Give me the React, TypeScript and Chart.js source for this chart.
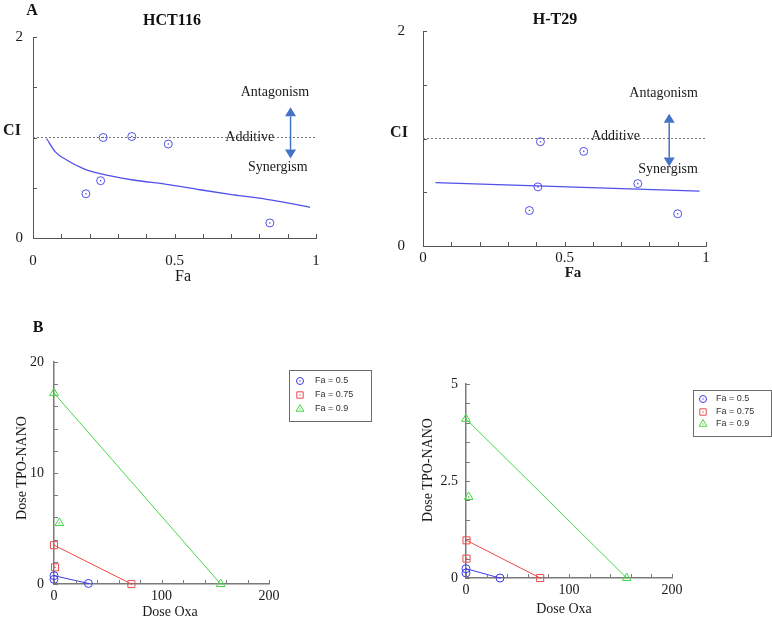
import { useEffect, useRef } from 'react';
import { Chart, registerables } from 'chart.js';

Chart.register(...registerables);

const SERIF = "'Liberation Serif', 'Times New Roman', serif";
const SANS = "'Liberation Sans', Arial, sans-serif";

// ---------------- Panel A : CI vs Fa ----------------
// HCT116
const hctPointFa = [0.187, 0.239, 0.248, 0.349, 0.478, 0.837];
const hctPointCI = [0.44, 0.57, 1.0, 1.01, 0.935, 0.15];
const hctCurveFa = [0.048, 0.078, 0.119, 0.178, 0.237, 0.354, 0.472, 0.59, 0.708, 0.826, 0.908, 0.979];
const hctCurveCI = [0.99, 0.86, 0.776, 0.69, 0.64, 0.577, 0.534, 0.48, 0.43, 0.385, 0.345, 0.305];
// H-T29
const htPointFa = [0.376, 0.406, 0.415, 0.568, 0.759, 0.9];
const htPointCI = [0.33, 0.55, 0.97, 0.88, 0.58, 0.3];
const htCurveFa = [0.044, 0.977];
const htCurveCI = [0.59, 0.51];

const additiveFa = [0, 1];
const additiveCI = [1, 1];

const faTickLabels = [0, 0.5, 1];
const ciTickLabels = [0, 2];
const faMinorTicks = [0, 0.1, 0.2, 0.3, 0.4, 0.5, 0.6, 0.7, 0.8, 0.9, 1];
const ciMinorTicks = [0, 0.5, 1, 1.5, 2];

// ---------------- Panel B : isobolograms ----------------
const faLevels = ['Fa = 0.5', 'Fa = 0.75', 'Fa = 0.9'];
// HCT116
const hctIsoOxa05 = [0, 32];
const hctIsoTpo05 = [0.75, 0.05];
const hctCombOxa05 = [0];
const hctCombTpo05 = [0.42];
const hctIsoOxa075 = [0, 72];
const hctIsoTpo075 = [3.5, 0];
const hctCombOxa075 = [1];
const hctCombTpo075 = [1.5];
const hctIsoOxa09 = [0, 155];
const hctIsoTpo09 = [17.2, 0];
const hctCombOxa09 = [5];
const hctCombTpo09 = [5.5];
// H-T29
const htIsoOxa05 = [0, 33];
const htIsoTpo05 = [0.24, 0];
const htCombOxa05 = [0];
const htCombTpo05 = [0.13];
const htIsoOxa075 = [0.5, 72];
const htIsoTpo075 = [0.97, 0];
const htCombOxa075 = [0.5];
const htCombTpo075 = [0.5];
const htIsoOxa09 = [0, 156];
const htIsoTpo09 = [4.1, 0];
const htCombOxa09 = [2.6];
const htCombTpo09 = [2.09];

const oxaTickLabels = [0, 100, 200];
const oxaMinorTicks = [0, 20, 40, 60, 80, 100, 120, 140, 160, 180, 200];
const hctTpoTickLabels = [0, 10, 20];
const hctTpoMinorTicks = [0, 2, 4, 6, 8, 10, 12, 14, 16, 18, 20];
const htTpoTickLabels = [0, 2.5, 5];
const htTpoMinorTicks = [0, 0.5, 1, 1.5, 2, 2.5, 3, 3.5, 4, 4.5, 5];

// ---------------- styles ----------------
const BLUE_A = 'rgb(80,80,235)';
const ARROW = '#4472c4';
const FA_COLORS = ['rgb(60,60,235)', 'rgb(235,75,75)', 'rgb(70,215,70)'];
const FA_MARKERS = ['circle', 'rect', 'triangle'];
const FA_RADIUS = [4, 5, 5];

const pts = (xs: number[], ys: number[]) => xs.map((x, i) => ({ x, y: ys[i] }));

function isoSets(iso: number[][], comb: number[][]) {
  const sets: any[] = [];
  faLevels.forEach((lab, k) => {
    const common = {
      pointStyle: FA_MARKERS[k],
      pointRadius: FA_RADIUS[k],
      borderColor: FA_COLORS[k],
      pointBorderColor: FA_COLORS[k],
      backgroundColor: 'rgba(0,0,0,0)',
      pointBackgroundColor: 'rgba(0,0,0,0)',
      borderWidth: 1,
      pointBorderWidth: 1,
      clip: false,
    };
    sets.push({ ...common, label: lab, data: pts(iso[k * 2], iso[k * 2 + 1]), showLine: true });
    sets.push({ ...common, label: lab + ' combination', data: pts(comb[k * 2], comb[k * 2 + 1]), showLine: false });
  });
  return sets;
}

type TextItem = { text: string; font: string; page?: [number, number]; data?: [number, number]; rotate?: boolean; color?: string };

type Panel = {
  left: number; top: number; w: number; h: number;
  plot: { l: number; t: number; r: number; b: number };
  xMin: number; xMax: number; yMin: number; yMax: number;
  xTicks: number[]; yTicks: number[]; xMinor: number[]; yMinor: number[];
  axisColor: string; axisWidth: number; tickFont: number; xPad: number; yPad: number; tickLen: number;
  datasets: any[];
  texts: TextItem[];
  arrow?: { x: number; y1: number; y2: number };
  legend?: { x: number; y: number; w: number; h: number; rows: number[]; markerX: number; textX: number };
};

const panels: Panel[] = [
  {
    left: 0, top: 0, w: 386, h: 290,
    plot: { l: 33, t: 37, r: 316, b: 238 },
    xMin: 0, xMax: 1, yMin: 0, yMax: 2,
    xTicks: faTickLabels, yTicks: ciTickLabels, xMinor: faMinorTicks, yMinor: ciMinorTicks,
    axisColor: '#555', axisWidth: 1, tickFont: 15, xPad: 14, yPad: 10, tickLen: 4,
    datasets: [
      { label: 'Combination', data: pts(hctPointFa, hctPointCI), pointStyle: 'circle', pointRadius: 4, borderColor: BLUE_A, pointBorderColor: BLUE_A, pointBackgroundColor: 'rgba(0,0,0,0)', borderWidth: 1, showLine: false, clip: false },
      { label: 'Fa-CI curve', data: pts(hctCurveFa, hctCurveCI), showLine: true, borderColor: BLUE_A, borderWidth: 1.3, pointRadius: 0, cubicInterpolationMode: 'monotone' },
      { label: 'Additive', data: pts(additiveFa, additiveCI), showLine: true, borderColor: '#777', borderWidth: 1, borderDash: [2, 2], pointRadius: 0 },
    ],
    texts: [
      { text: 'CI', font: `bold 16px ${SERIF}`, page: [12, 131] },
      { text: 'Fa', font: `16px ${SERIF}`, page: [183, 277] },
      { text: 'Antagonism', font: `14px ${SERIF}`, data: [0.855, 1.45] },
      { text: 'Additive', font: `14px ${SERIF}`, data: [0.766, 1.0] },
      { text: 'Synergism', font: `14px ${SERIF}`, data: [0.865, 0.7] },
    ],
    arrow: { x: 0.91, y1: 1.3, y2: 0.79 },
  },
  {
    left: 386, top: 0, w: 386, h: 290,
    plot: { l: 423, t: 31, r: 706, b: 246 },
    xMin: 0, xMax: 1, yMin: 0, yMax: 2,
    xTicks: faTickLabels, yTicks: ciTickLabels, xMinor: faMinorTicks, yMinor: ciMinorTicks,
    axisColor: '#555', axisWidth: 1, tickFont: 15, xPad: 3, yPad: 18, tickLen: 4,
    datasets: [
      { label: 'Combination', data: pts(htPointFa, htPointCI), pointStyle: 'circle', pointRadius: 4, borderColor: BLUE_A, pointBorderColor: BLUE_A, pointBackgroundColor: 'rgba(0,0,0,0)', borderWidth: 1, showLine: false, clip: false },
      { label: 'Fa-CI curve', data: pts(htCurveFa, htCurveCI), showLine: true, borderColor: BLUE_A, borderWidth: 1.3, pointRadius: 0 },
      { label: 'Additive', data: pts(additiveFa, additiveCI), showLine: true, borderColor: '#777', borderWidth: 1, borderDash: [2, 2], pointRadius: 0 },
    ],
    texts: [
      { text: 'CI', font: `bold 16px ${SERIF}`, page: [399, 133] },
      { text: 'Fa', font: `bold 15px ${SERIF}`, page: [573, 273] },
      { text: 'Antagonism', font: `14px ${SERIF}`, data: [0.85, 1.42] },
      { text: 'Additive', font: `14px ${SERIF}`, data: [0.68, 1.02] },
      { text: 'Synergism', font: `14px ${SERIF}`, data: [0.866, 0.71] },
    ],
    arrow: { x: 0.87, y1: 1.23, y2: 0.74 },
  },
  {
    left: 0, top: 310, w: 386, h: 309,
    plot: { l: 54, t: 362, r: 269, b: 584 },
    xMin: 0, xMax: 200, yMin: 0, yMax: 20,
    xTicks: oxaTickLabels, yTicks: hctTpoTickLabels, xMinor: oxaMinorTicks, yMinor: hctTpoMinorTicks,
    axisColor: '#7a7a7a', axisWidth: 1.5, tickFont: 14, xPad: 4, yPad: 10, tickLen: 4,
    datasets: isoSets(
      [hctIsoOxa05, hctIsoTpo05, hctIsoOxa075, hctIsoTpo075, hctIsoOxa09, hctIsoTpo09],
      [hctCombOxa05, hctCombTpo05, hctCombOxa075, hctCombTpo075, hctCombOxa09, hctCombTpo09],
    ),
    texts: [
      { text: 'Dose TPO-NANO', font: `14px ${SERIF}`, page: [22, 468], rotate: true },
      { text: 'Dose Oxa', font: `14px ${SERIF}`, page: [170, 612] },
    ],
    legend: { x: 289, y: 370, w: 82, h: 51, rows: [381, 395, 409], markerX: 300, textX: 315 },
  },
  {
    left: 386, top: 310, w: 386, h: 309,
    plot: { l: 466, t: 384, r: 672, b: 578 },
    xMin: 0, xMax: 200, yMin: 0, yMax: 5,
    xTicks: oxaTickLabels, yTicks: htTpoTickLabels, xMinor: oxaMinorTicks, yMinor: htTpoMinorTicks,
    axisColor: '#7a7a7a', axisWidth: 1.5, tickFont: 14, xPad: 4, yPad: 8, tickLen: 4,
    datasets: isoSets(
      [htIsoOxa05, htIsoTpo05, htIsoOxa075, htIsoTpo075, htIsoOxa09, htIsoTpo09],
      [htCombOxa05, htCombTpo05, htCombOxa075, htCombTpo075, htCombOxa09, htCombTpo09],
    ),
    texts: [
      { text: 'Dose TPO-NANO', font: `14px ${SERIF}`, page: [428, 470], rotate: true },
      { text: 'Dose Oxa', font: `14px ${SERIF}`, page: [564, 609] },
    ],
    legend: { x: 693, y: 390, w: 78, h: 46, rows: [399, 412, 424], markerX: 703, textX: 716 },
  },
];

function drawMarker(ctx: CanvasRenderingContext2D, style: string, x: number, y: number, r: number) {
  ctx.beginPath();
  if (style === 'circle') {
    ctx.arc(x, y, r, 0, Math.PI * 2);
  } else if (style === 'rect') {
    const s = r * Math.SQRT1_2;
    ctx.rect(x - s, y - s, 2 * s, 2 * s);
  } else {
    const h = r * 1.5;
    ctx.moveTo(x, y - r);
    ctx.lineTo(x - h / Math.sqrt(3), y + r / 2);
    ctx.lineTo(x + h / Math.sqrt(3), y + r / 2);
    ctx.closePath();
  }
  ctx.stroke();
}

function decorPlugin(p: Panel) {
  return {
    id: 'decor',
    afterDraw(chart: any) {
      const ctx: CanvasRenderingContext2D = chart.ctx;
      const xs = chart.scales.x;
      const ys = chart.scales.y;
      const ca = chart.chartArea;
      ctx.save();
      // inward minor ticks
      ctx.strokeStyle = p.axisColor;
      ctx.lineWidth = 1;
      ctx.beginPath();
      for (const v of p.xMinor) {
        const px = Math.round(xs.getPixelForValue(v)) + 0.5;
        ctx.moveTo(px, ca.bottom);
        ctx.lineTo(px, ca.bottom - p.tickLen);
      }
      for (const v of p.yMinor) {
        const py = Math.round(ys.getPixelForValue(v)) + 0.5;
        ctx.moveTo(ca.left, py);
        ctx.lineTo(ca.left + p.tickLen, py);
      }
      ctx.stroke();

      // small centre dot inside each hollow marker
      chart.data.datasets.forEach((ds: any, i: number) => {
        if (!ds.pointRadius) return;
        const meta = chart.getDatasetMeta(i);
        ctx.fillStyle = ds.pointBorderColor || ds.borderColor;
        for (const el of meta.data) {
          ctx.beginPath();
          ctx.arc(el.x, el.y, 0.8, 0, Math.PI * 2);
          ctx.fill();
        }
      });

      // arrow
      if (p.arrow) {
        const ax = xs.getPixelForValue(p.arrow.x);
        const y1 = ys.getPixelForValue(p.arrow.y1);
        const y2 = ys.getPixelForValue(p.arrow.y2);
        const head = 9;
        const hw = 5.5;
        ctx.strokeStyle = ARROW;
        ctx.fillStyle = ARROW;
        ctx.lineWidth = 1.5;
        ctx.beginPath();
        ctx.moveTo(ax, y1 + head);
        ctx.lineTo(ax, y2 - head);
        ctx.stroke();
        ctx.beginPath();
        ctx.moveTo(ax, y1);
        ctx.lineTo(ax - hw, y1 + head);
        ctx.lineTo(ax + hw, y1 + head);
        ctx.closePath();
        ctx.fill();
        ctx.beginPath();
        ctx.moveTo(ax, y2);
        ctx.lineTo(ax - hw, y2 - head);
        ctx.lineTo(ax + hw, y2 - head);
        ctx.closePath();
        ctx.fill();
      }

      // texts
      ctx.textAlign = 'center';
      ctx.textBaseline = 'middle';
      for (const t of p.texts) {
        let x = 0, y = 0;
        if (t.data) {
          x = xs.getPixelForValue(t.data[0]);
          y = ys.getPixelForValue(t.data[1]);
        } else if (t.page) {
          x = t.page[0] - p.left;
          y = t.page[1] - p.top;
        }
        ctx.font = t.font;
        ctx.fillStyle = t.color || '#1a1a1a';
        if (t.rotate) {
          ctx.save();
          ctx.translate(x, y);
          ctx.rotate(-Math.PI / 2);
          ctx.fillText(t.text, 0, 0);
          ctx.restore();
        } else {
          ctx.fillText(t.text, x, y);
        }
      }

      // legend box
      if (p.legend) {
        const L = p.legend;
        const lx = L.x - p.left;
        const ly = L.y - p.top;
        ctx.fillStyle = '#fff';
        ctx.fillRect(lx, ly, L.w, L.h);
        ctx.strokeStyle = '#6a6a6a';
        ctx.lineWidth = 1;
        ctx.strokeRect(lx + 0.5, ly + 0.5, L.w, L.h);
        ctx.font = `9px ${SANS}`;
        ctx.textAlign = 'left';
        ctx.textBaseline = 'middle';
        faLevels.forEach((lab, k) => {
          const ry = L.rows[k] - p.top;
          const mx = L.markerX - p.left;
          ctx.strokeStyle = FA_COLORS[k];
          ctx.lineWidth = 1;
          drawMarker(ctx, FA_MARKERS[k], mx, ry, k === 0 ? 3.5 : 4.5);
          ctx.fillStyle = FA_COLORS[k];
          ctx.beginPath();
          ctx.arc(mx, ry, 0.7, 0, Math.PI * 2);
          ctx.fill();
          ctx.fillStyle = '#333';
          ctx.fillText(lab, L.textX - p.left, ry);
        });
      }
      ctx.restore();
    },
  };
}

function buildConfig(p: Panel): any {
  const pl = p.plot.l - p.left;
  const pt = p.plot.t - p.top;
  const pr = p.plot.r - p.left;
  const pb = p.plot.b - p.top;
  const tickFont = { family: SERIF, size: p.tickFont };
  return {
    type: 'scatter',
    data: { datasets: p.datasets },
    options: {
      responsive: false,
      animation: false,
      devicePixelRatio: 1,
      layout: { padding: { left: 0, top: pt, right: p.w - pr, bottom: 0 } },
      plugins: { legend: { display: false }, tooltip: { enabled: false }, title: { display: false } },
      scales: {
        x: {
          type: 'linear',
          min: p.xMin,
          max: p.xMax,
          afterFit: (s: any) => { s.height = p.h - pb; },
          afterBuildTicks: (s: any) => { s.ticks = p.xTicks.map((v) => ({ value: v })); },
          grid: { display: false, drawTicks: false },
          border: { display: true, color: p.axisColor, width: p.axisWidth },
          ticks: { font: tickFont, color: '#1a1a1a', padding: p.xPad, maxRotation: 0, autoSkip: false, callback: (v: any) => String(v) },
        },
        y: {
          type: 'linear',
          min: p.yMin,
          max: p.yMax,
          afterFit: (s: any) => { s.width = pl; },
          afterBuildTicks: (s: any) => { s.ticks = p.yTicks.map((v) => ({ value: v })); },
          grid: { display: false, drawTicks: false },
          border: { display: true, color: p.axisColor, width: p.axisWidth },
          ticks: { font: tickFont, color: '#1a1a1a', padding: p.yPad, autoSkip: false, callback: (v: any) => String(v) },
        },
      },
    },
    plugins: [decorPlugin(p)],
  };
}

function ChartPanel({ spec }: { spec: Panel }) {
  const ref = useRef<HTMLCanvasElement>(null);
  useEffect(() => {
    const c = ref.current;
    if (!c) return;
    const chart = new Chart(c, buildConfig(spec));
    return () => chart.destroy();
  }, [spec]);
  return (
    <canvas
      ref={ref}
      width={spec.w}
      height={spec.h}
      style={{ position: 'absolute', left: spec.left, top: spec.top, width: spec.w, height: spec.h }}
    />
  );
}

const headings = [
  { text: 'A', x: 32, y: 10 },
  { text: 'HCT116', x: 172, y: 20 },
  { text: 'H-T29', x: 555, y: 19 },
  { text: 'B', x: 38, y: 327 },
];

export default function App() {
  return (
    <div style={{ position: 'absolute', left: 0, top: 0, width: 772, height: 619, background: '#fff', overflow: 'hidden' }}>
      {panels.map((p, i) => (
        <ChartPanel key={i} spec={p} />
      ))}
      {headings.map((h) => (
        <div
          key={h.text}
          style={{
            position: 'absolute',
            left: h.x,
            top: h.y,
            transform: 'translate(-50%, -50%)',
            fontFamily: SERIF,
            fontWeight: 'bold',
            fontSize: 16,
            lineHeight: 1,
            whiteSpace: 'nowrap',
            color: '#111',
          }}
        >
          {h.text}
        </div>
      ))}
    </div>
  );
}
